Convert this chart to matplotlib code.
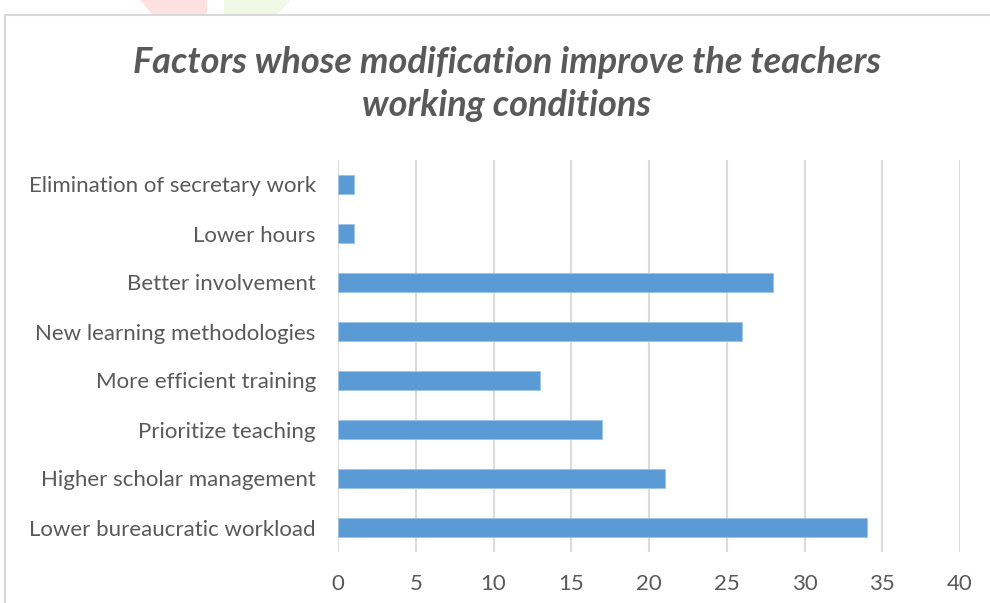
import matplotlib
matplotlib.use("Agg")
import matplotlib.pyplot as plt
from matplotlib.patches import Rectangle, Polygon

categories = [
    "Lower bureaucratic workload",
    "Higher scholar management",
    "Prioritize teaching",
    "More efficient training",
    "New learning methodologies",
    "Better involvement",
    "Lower hours",
    "Elimination of secretary work",
]
values = [34, 21, 17, 13, 26, 28, 1, 1]
xticks = [0, 5, 10, 15, 20, 25, 30, 35, 40]
title = "Factors whose modification improve the teachers\nworking conditions"

plt.rcParams['font.family'] = ['Lato', 'DejaVu Sans']

W, H = 990, 603
fig = plt.figure(figsize=(W / 100, H / 100), dpi=100)
fig.patch.set_facecolor("white")

# watermark fragments at top
fig.patches.append(Polygon([(140 / W, 1), (207 / W, 1), (207 / W, 1 - 14 / H), (152 / W, 1 - 14 / H)],
                           closed=True, transform=fig.transFigure, facecolor="#fde1e1", edgecolor="none", zorder=0))
fig.patches.append(Polygon([(224 / W, 1), (290 / W, 1), (278 / W, 1 - 14 / H), (224 / W, 1 - 14 / H)],
                           closed=True, transform=fig.transFigure, facecolor="#eff9e6", edgecolor="none", zorder=0))
# chart area border
fig.patches.append(Rectangle((5 / W, -0.1), 1.2, 1.1 - 15 / H, transform=fig.transFigure,
                             facecolor="none", edgecolor="#d9d9d9", linewidth=1.5, zorder=1))

left, right, top, bottom = 338, 960, 160, 552
ax = fig.add_axes([left / W, 1 - bottom / H, (right - left) / W, (bottom - top) / H])
ax.set_facecolor("none")

ypos = list(range(len(categories)))
ax.barh(ypos, values, height=0.37, color="#5b9bd5", edgecolor="#9dc3e6", linewidth=0.6, zorder=3)

ax.set_xlim(0, 40)
ax.set_ylim(-0.5, len(categories) - 0.5)
ax.set_xticks(xticks)
ax.set_xticklabels([str(t) for t in xticks])
ax.set_yticks(ypos)
ax.set_yticklabels(categories)

ax.grid(axis="x", color="#dcdcdc", linewidth=1.5, zorder=0)
for s in ax.spines.values():
    s.set_visible(False)
ax.tick_params(axis="both", length=0, colors="#595959", labelsize=16)
ax.tick_params(axis="x", pad=16)
ax.tick_params(axis="y", pad=16)

fig.text(0.5 * (128 + 886) / W, 1 - 84 / H, title, ha="center", va="center",
         fontsize=26, fontweight="bold", fontstyle="italic", color="#595959",
         linespacing=1.34)

fig.savefig("out.png", dpi=100, facecolor="white")
